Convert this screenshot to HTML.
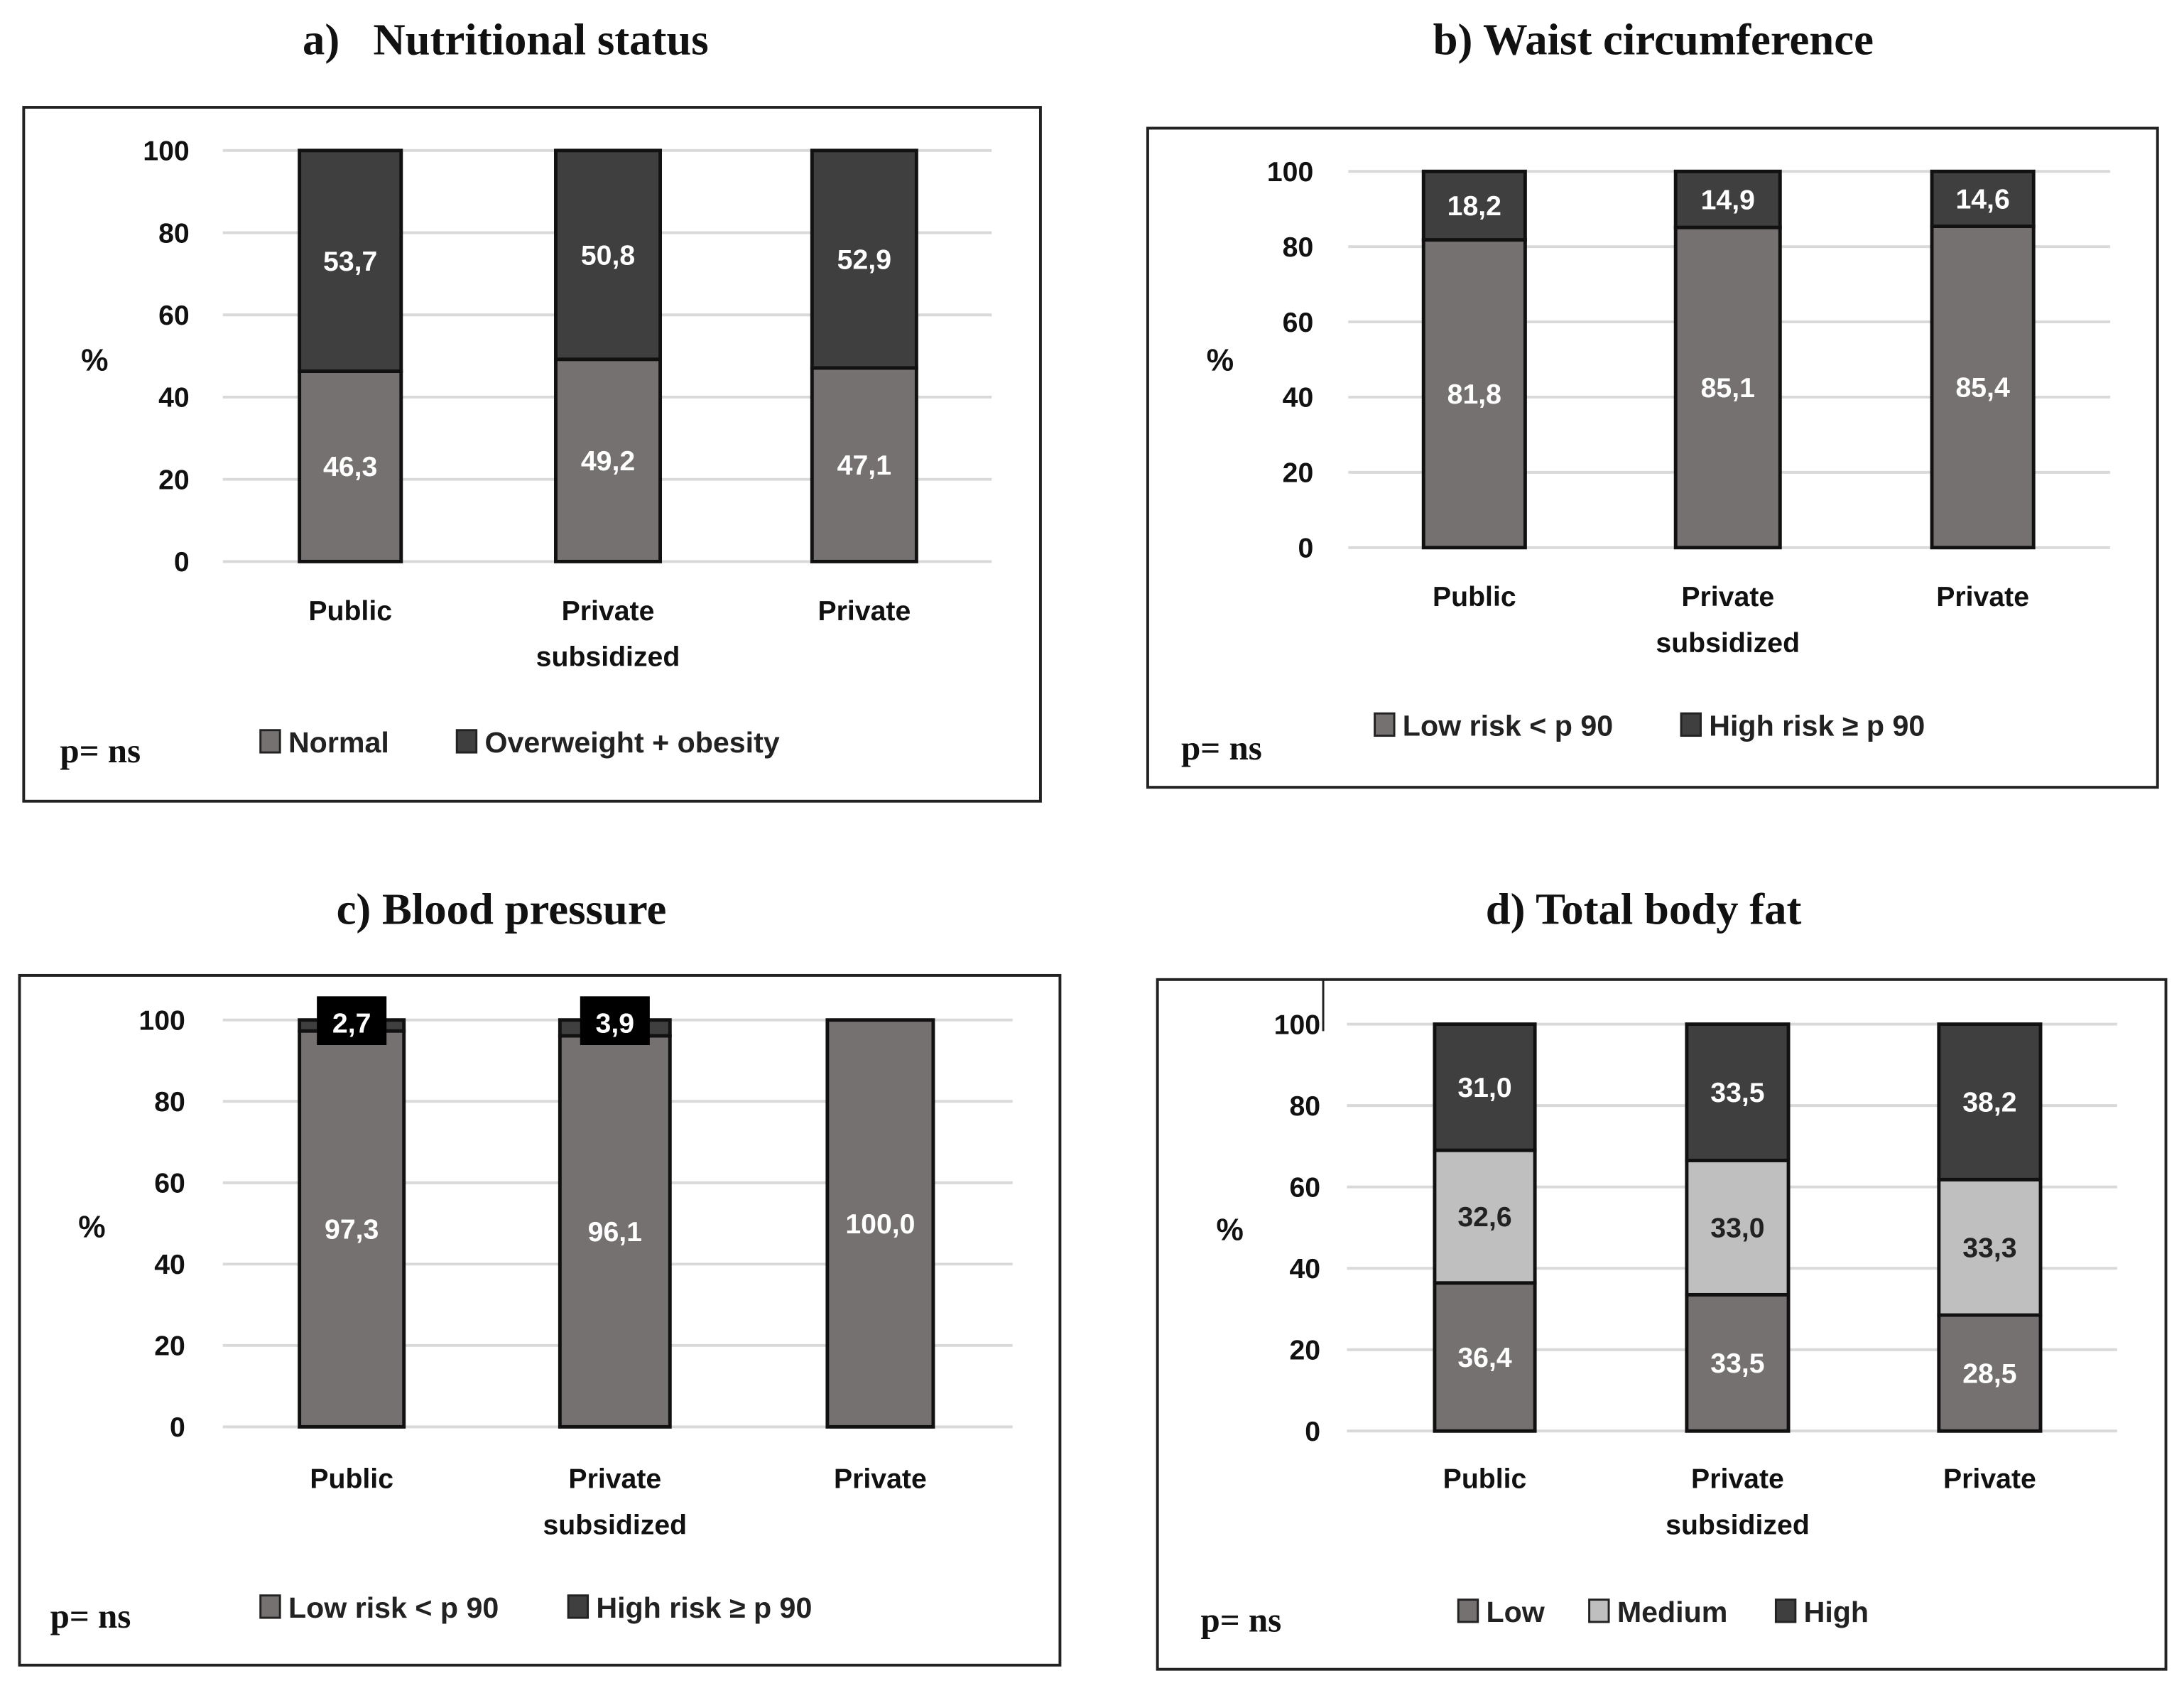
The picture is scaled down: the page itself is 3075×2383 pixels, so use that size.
<!DOCTYPE html>
<html><head><meta charset="utf-8"><style>
html,body{margin:0;padding:0;background:#fff;}
svg{display:block;}
</style></head><body>
<svg id="fig" width="3075" height="2383" viewBox="0 0 1568 1215" preserveAspectRatio="none" xmlns="http://www.w3.org/2000/svg" font-family="'Liberation Sans', sans-serif"></svg>
<script>
// ---- data ----
const categories = ["Public", "Private|subsidized", "Private"];
const aNormal = [46.3, 49.2, 47.1];
const aOverweight = [53.7, 50.8, 52.9];
const bLow = [81.8, 85.1, 85.4];
const bHigh = [18.2, 14.9, 14.6];
const cLow = [97.3, 96.1, 100.0];
const cHigh = [2.7, 3.9, 0];
const dLow = [36.4, 33.5, 28.5];
const dMedium = [32.6, 33.0, 33.3];
const dHigh = [31.0, 33.5, 38.2];
const yTicks = [0, 20, 40, 60, 80, 100];

const C_LOW = "#767171", C_MED = "#bfbfbf", C_HIGH = "#3f3f3f";
const NS = "http://www.w3.org/2000/svg";
const svg = document.getElementById("fig");
function mk(tag, attrs, parent, text) {
  const e = document.createElementNS(NS, tag);
  for (const k in attrs) e.setAttribute(k, attrs[k]);
  if (text !== undefined) e.textContent = text;
  (parent || svg).appendChild(e);
  return e;
}
function fmt(v) { return v.toFixed(1).replace(".", ","); }

function panel(cfg) {
  const g = mk("g", {});
  
  
  const box = mk("rect", {x: cfg.box[0], y: cfg.box[1], width: cfg.box[2] - cfg.box[0], height: cfg.box[3] - cfg.box[1], fill: "#fff", stroke: "#222", "stroke-width": 2}, g);
  
  
  const t = mk("text", {x: cfg.titleX, y: cfg.titleY, "text-anchor": "middle", "font-family": "'Liberation Serif', serif", "font-weight": "bold", "font-size": 32, fill: "#111"}, g, cfg.title);
  
  
  const y = v => cfg.y0 + (cfg.y100 - cfg.y0) * v / 100;
  yTicks.forEach(v => {
    const l = mk("line", {x1: cfg.gx[0], x2: cfg.gx[1], y1: y(v), y2: y(v), stroke: "#d9d9d9", "stroke-width": 2}, g);
    
    
    const tt = mk("text", {x: cfg.tickX, y: y(v) + 7, "text-anchor": "end", "font-size": 20, "font-weight": "bold", fill: "#111"}, g, String(v));
    
    
  });
  const pc = mk("text", {x: cfg.pct[0], y: cfg.pct[1], "text-anchor": "middle", "font-size": 22, "font-weight": "bold", fill: "#111"}, g, "%");
  
  
  categories.forEach((c, i) => {
    const [bx, bw] = cfg.bars[i];
    let acc = 0;
    cfg.series.forEach((s, si) => {
      const v = s.data[i];
      if (v > 0) {
        const r = mk("rect", {x: bx, y: y(acc + v), width: bw, height: y(acc) - y(acc + v), fill: s.color, stroke: "#111", "stroke-width": 2.5}, g);
        
        
        const my = (y(acc) + y(acc + v)) / 2 + 7;
        if (s.boxLabel) {
          const lb = mk("rect", {x: bx + bw / 2 - 25, y: y(100) - 17, width: 50, height: 35, fill: "#000"}, g);
          
          
          const lt = mk("text", {x: bx + bw / 2, y: y(100) + 9, "text-anchor": "middle", "font-size": 20, "font-weight": "bold", fill: "#fff"}, g, fmt(v));
          
          
        } else {
          const lt = mk("text", {x: bx + bw / 2, y: my, "text-anchor": "middle", "font-size": 20, "font-weight": "bold", fill: s.textColor || "#fff"}, g, fmt(v));
          
          
        }
      }
      acc += v;
    });
    c.split("|").forEach((line, li) => {
      const ct = mk("text", {x: bx + bw / 2, y: cfg.catY + li * 33, "text-anchor": "middle", "font-size": 20, "font-weight": "bold", fill: "#111"}, g, line);
      
      
    });
  });
  cfg.legend.forEach(le => {
    const sq = mk("rect", {x: le.x, y: cfg.legY - 16, width: 14, height: 16, fill: le.color, stroke: "#222", "stroke-width": 1.5}, g);
    
    
    const lt = mk("text", {x: le.x + 20, y: cfg.legY, "font-size": 21, "font-weight": "bold", fill: "#222"}, g, le.text);
    
    
  });
  const p = mk("text", {x: cfg.pns[0], y: cfg.pns[1], "font-family": "'Liberation Serif', serif", "font-size": 25, "font-weight": "bold", fill: "#111"}, g, "p= ns");
  
  
}

panel({name: "panel-a-nutritional-status", box: [17, 77, 747, 575], title: "a)\u00a0\u00a0\u00a0Nutritional status", titleX: 363, titleY: 39,
  y0: 403, y100: 108, gx: [160, 712], tickX: 136, pct: [68, 266], catY: 445, legY: 540, pns: [43, 547],
  bars: [[215, 73], [399, 75], [583, 75]],
  series: [{key: "normal", data: aNormal, color: C_LOW}, {key: "overweight", data: aOverweight, color: C_HIGH}],
  legend: [{x: 187, color: C_LOW, text: "Normal"}, {x: 328, color: C_HIGH, text: "Overweight + obesity"}]});

panel({name: "panel-b-waist-circumference", box: [824, 92, 1549, 565], title: "b) Waist circumference", titleX: 1187, titleY: 39,
  y0: 393, y100: 123, gx: [968, 1515], tickX: 943, pct: [876, 266], catY: 435, legY: 528, pns: [848, 545],
  bars: [[1022, 73], [1203, 75], [1387, 73]],
  series: [{key: "low-risk", data: bLow, color: C_LOW}, {key: "high-risk", data: bHigh, color: C_HIGH}],
  legend: [{x: 987, color: C_LOW, text: "Low risk < p 90"}, {x: 1207, color: C_HIGH, text: "High risk ≥ p 90"}]});

panel({name: "panel-c-blood-pressure", box: [14, 700, 761, 1195], title: "c) Blood pressure", titleX: 360, titleY: 663,
  y0: 1024, y100: 732, gx: [160, 727], tickX: 133, pct: [66, 888], catY: 1068, legY: 1161, pns: [36, 1168],
  bars: [[215, 75], [402, 79], [594, 76]],
  series: [{key: "low-risk", data: cLow, color: C_LOW}, {key: "high-risk", data: cHigh, color: C_HIGH, boxLabel: true}],
  legend: [{x: 187, color: C_LOW, text: "Low risk < p 90"}, {x: 408, color: C_HIGH, text: "High risk ≥ p 90"}]});

panel({name: "panel-d-total-body-fat", box: [831, 703, 1555, 1198], title: "d) Total body fat", titleX: 1180, titleY: 663,
  y0: 1027, y100: 735, gx: [967, 1520], tickX: 948, pct: [883, 890], catY: 1068, legY: 1164, pns: [862, 1171],
  bars: [[1030, 72], [1211, 73], [1392, 73]],
  series: [{key: "low", data: dLow, color: C_LOW}, {key: "medium", data: dMedium, color: C_MED, textColor: "#222"}, {key: "high", data: dHigh, color: C_HIGH}],
  legend: [{x: 1047, color: C_LOW, text: "Low"}, {x: 1141, color: C_MED, text: "Medium"}, {x: 1275, color: C_HIGH, text: "High"}]});

const vl = mk("line", {x1: 950, x2: 950, y1: 703, y2: 740, stroke: "#222", "stroke-width": 1.5});


</script>
</body></html>
